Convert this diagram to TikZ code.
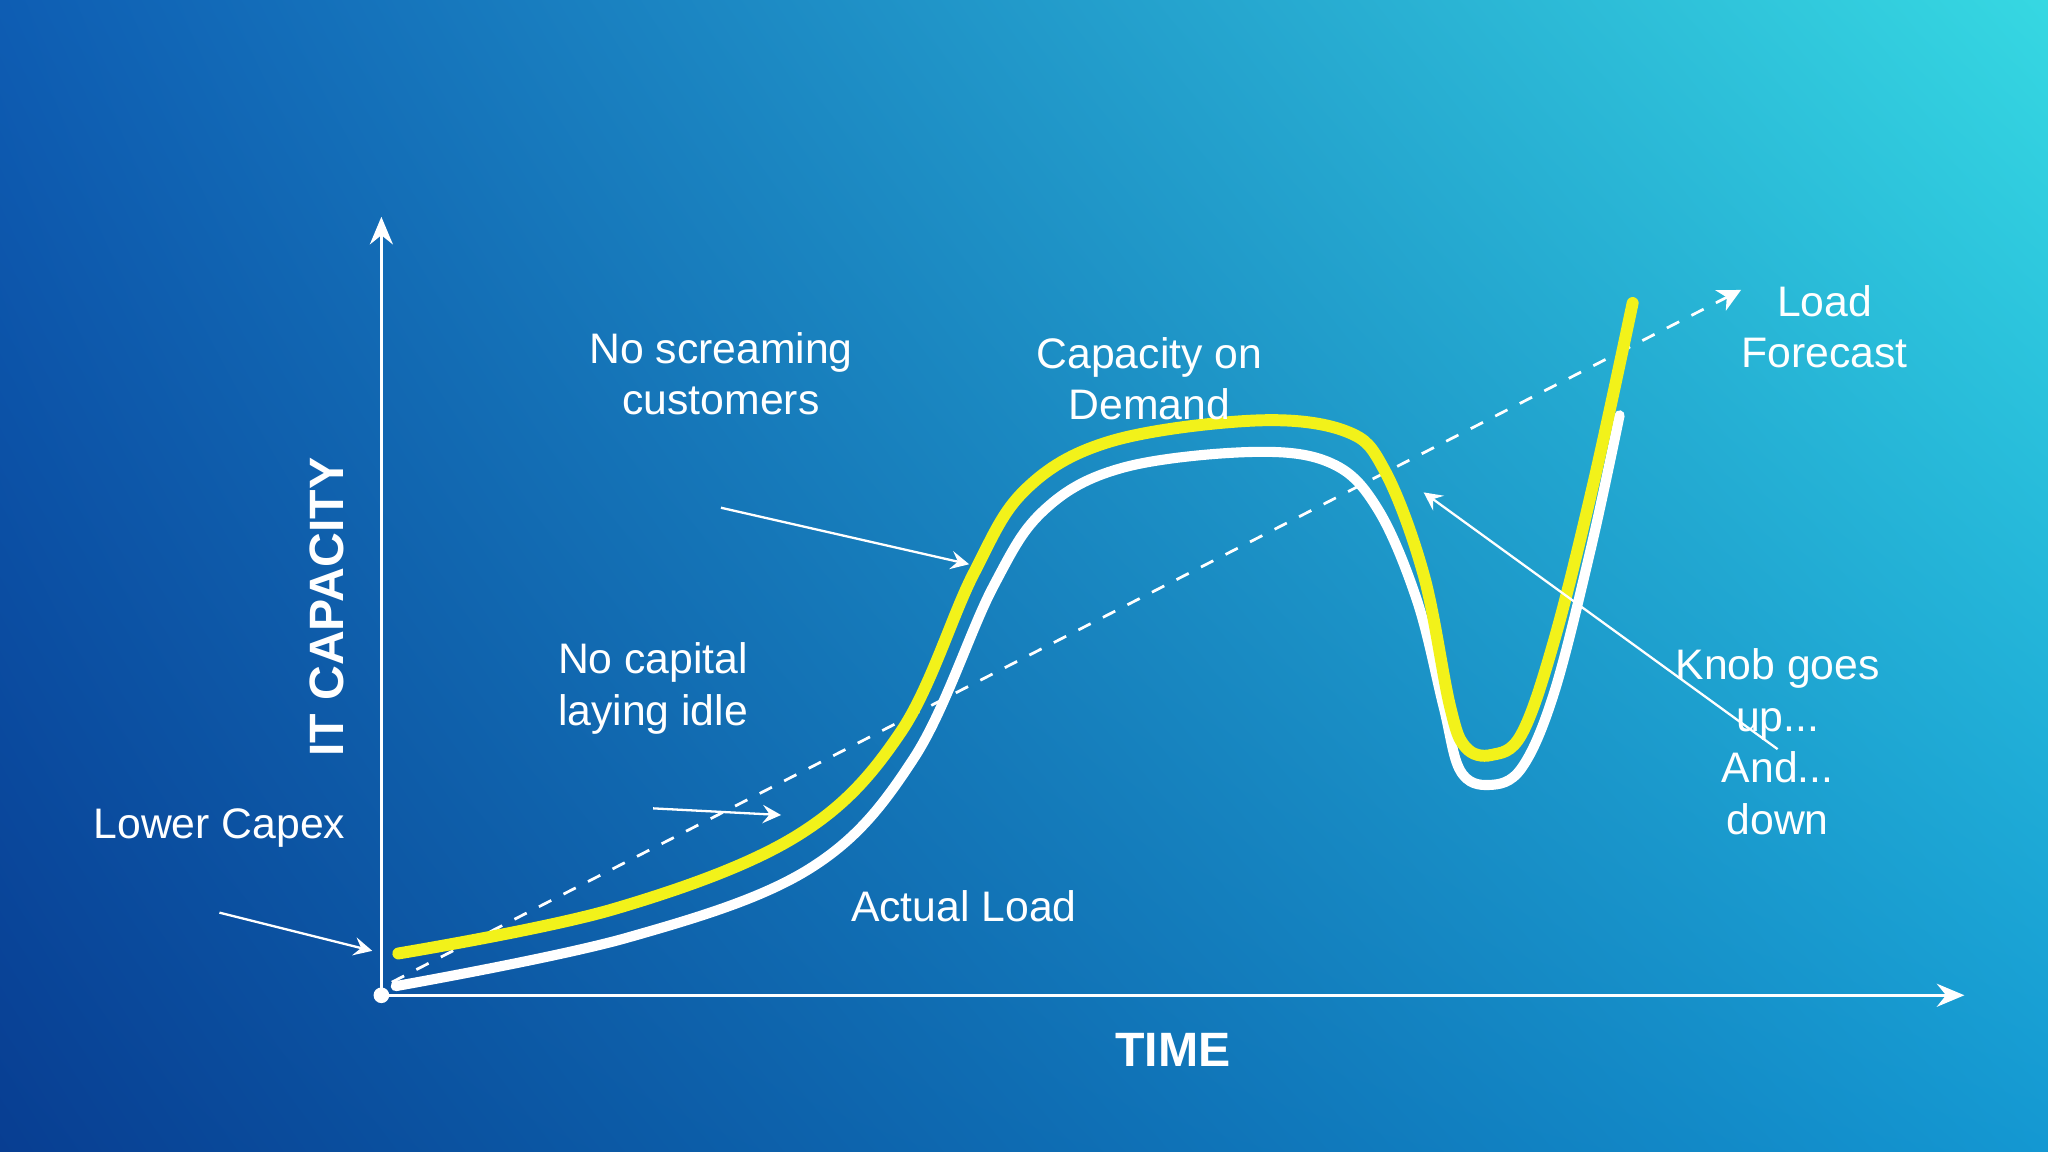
\documentclass[tikz,border=0pt]{standalone}
\usepackage{fontspec}
\setmainfont{Liberation Sans}
\usetikzlibrary{arrows.meta,shadings}
\definecolor{bgTL}{HTML}{0E5DB3}
\definecolor{bgBL}{HTML}{083E92}
\definecolor{bgTR}{HTML}{36D8E2}
\definecolor{bgBR}{HTML}{1498D2}
\definecolor{curveY}{HTML}{F2F21A}
\tikzset{
  lbl/.style={text=white,font=\fontsize{9.3pt}{11.2pt}\selectfont,align=center,inner sep=0pt},
  ttl/.style={text=white,font=\fontsize{10.5pt}{12pt}\selectfont\bfseries,inner sep=0pt},
  axis/.style={white,line width=0.7pt,-{Stealth[length=6pt,width=5pt,inset=2pt]}},
  note/.style={white,line width=0.5pt,-{Stealth[length=4pt,width=4pt,inset=1.5pt]}}
}
\begin{document}
\begin{tikzpicture}[x=0.01cm,y=-0.01cm]
\useasboundingbox (0,0) rectangle (1568,882);
\shade[upper left=bgTL,lower left=bgBL,upper right=bgTR,lower right=bgBR] (0,0) rectangle (1568,882);
\coordinate (O) at (292,762);
\coordinate (Ytop) at (292,166);
\coordinate (Xend) at (1504,762);
\draw[axis] (O) -- (Ytop);
\draw[axis] (O) -- (Xend);
\fill[white] (O) circle (6);
% dashed forecast
\coordinate (F0) at (300,752);
\coordinate (F1) at (1333,222);
\draw[white,dashed,line width=0.6pt,-{Stealth[length=5pt,width=5pt,inset=1.5pt]}] (F0) -- (F1);
% white actual load
\draw[white,line width=2.2pt,line cap=round] plot[smooth,tension=0.6] coordinates {(303,755) (480,718) (620,665) (700,580) (760,450) (800,390) (860,358) (960,346) (1020,355) (1055,390) (1085,460) (1105,540) (1118,590) (1140,601) (1165,588) (1190,530) (1218,420) (1240,318)};
% yellow capacity
\draw[curveY,line width=2.6pt,line cap=round] plot[smooth,tension=0.6] coordinates {(305,730) (470,696) (610,640) (690,560) (745,440) (785,375) (850,338) (960,322) (1030,330) (1060,360) (1090,440) (1110,540) (1122,572) (1142,578) (1165,562) (1190,490) (1220,370) (1250,232)};
% labels
\node[lbl] (lf) at (1397,250) {Load\\Forecast};
\node[lbl] (ns) at (552,286) {No screaming\\customers};
\node[lbl] (cd) at (880,290) {Capacity on\\Demand};
\node[lbl] (nc) at (500,527) {No capital\\laying idle};
\node[lbl] (lc) at (168,634) {Lower Capex};
\node[lbl] (al) at (738,694) {Actual Load};
\node[lbl] (kn) at (1361,568) {Knob goes\\up...\\And...\\down};
\node[ttl,rotate=90] (ic) at (250,465) {IT CAPACITY};
\node[ttl] (tm) at (898,804) {TIME};
% annotation arrows
\coordinate (a1) at (742,432);
\coordinate (a2) at (598,624);
\coordinate (a3) at (285,728);
\coordinate (a4) at (1090,377);
\draw[note] ([yshift=-20]ns.south) -- (a1);
\draw[note] ([yshift=-16]nc.south) -- (a2);
\draw[note] ([yshift=-14]lc.south) -- (a3);
\draw[note] ([yshift=-22]kn.north) -- (a4);
\end{tikzpicture}
\end{document}
